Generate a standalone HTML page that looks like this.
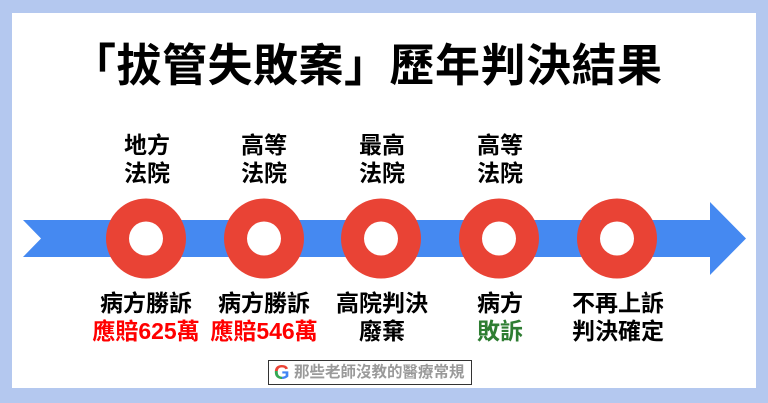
<!DOCTYPE html>
<html><head><meta charset="utf-8"><style>
html,body{margin:0;padding:0;}
body{width:768px;height:403px;background:#b4c8ef;position:relative;overflow:hidden;font-family:"Liberation Sans","Noto Sans CJK TC",sans-serif;}
.card{position:absolute;left:12px;top:13px;width:744px;height:375px;background:#fff;}
.t{position:absolute;white-space:nowrap;text-align:center;font-weight:bold;color:#000;transform:translateX(-50%);}
.title{position:absolute;left:71px;top:36px;font-size:45px;font-weight:bold;letter-spacing:0.5px;white-space:nowrap;line-height:60px;}
.lab{font-size:23px;line-height:28px;}
.red{color:#ff0000}.grn{color:#2e7d32}
.wm{position:absolute;left:268px;top:360px;width:202px;height:23px;border:1.5px solid #333;background:#fff;font-size:15.5px;line-height:23px;color:#9a9a9a;font-weight:bold;white-space:nowrap;overflow:hidden;}
</style></head><body>
<div class="card"></div>
<div class="title">「拔管失敗案」歷年判決結果</div>
<svg style="position:absolute;left:0;top:0" width="768" height="403">
<polygon points="23,220 710,220 710,202 746,238.5 710,275 710,257 23,257 41,238.5" fill="#4589f1"/>
<g fill="#e94335">
<circle cx="146" cy="238.5" r="40"/><circle cx="264" cy="238.5" r="40"/><circle cx="381" cy="238.5" r="40"/><circle cx="499" cy="238.5" r="40"/><circle cx="617" cy="238.5" r="40"/>
</g>
<g fill="#fff">
<ellipse cx="146" cy="238.5" rx="17" ry="17"/><ellipse cx="264" cy="238.5" rx="17" ry="17"/><ellipse cx="381" cy="238.5" rx="17" ry="17"/><ellipse cx="499" cy="238.5" rx="17" ry="17"/><ellipse cx="617" cy="238.5" rx="17" ry="17"/>
</g>
</svg>
<div class="t lab" style="left:147px;top:131px">地方<br>法院</div>
<div class="t lab" style="left:264px;top:131px">高等<br>法院</div>
<div class="t lab" style="left:382px;top:131px">最高<br>法院</div>
<div class="t lab" style="left:500px;top:131px">高等<br>法院</div>
<div class="t lab" style="left:146px;top:289px">病方勝訴<br><span class="red">應賠625萬</span></div>
<div class="t lab" style="left:264px;top:289px">病方勝訴<br><span class="red">應賠546萬</span></div>
<div class="t lab" style="left:382px;top:289px">高院判決<br>廢棄</div>
<div class="t lab" style="left:500px;top:289px">病方<br><span class="grn">敗訴</span></div>
<div class="t lab" style="left:618px;top:289px">不再上訴<br>判決確定</div>
<div class="wm"><span style="display:inline-block;width:25px;"></span>那些老師沒教的醫療常規</div>
<svg style="position:absolute;left:0;top:0" width="768" height="403">
<defs>
<clipPath id="c1"><rect x="270" y="360" width="30" height="11"/></clipPath>
<clipPath id="c2"><rect x="270" y="371" width="12" height="15"/></clipPath>
<clipPath id="c3"><rect x="282" y="371" width="20" height="15"/></clipPath>
</defs>
<g font-family="Liberation Sans,sans-serif" font-weight="bold" font-size="20">
<text x="274" y="379" fill="#ea4335" clip-path="url(#c1)">G</text>
<text x="274" y="379" fill="#34a853" clip-path="url(#c2)">G</text>
<text x="274" y="379" fill="#4285f4" clip-path="url(#c3)">G</text>
</g>
</svg>
</body></html>
